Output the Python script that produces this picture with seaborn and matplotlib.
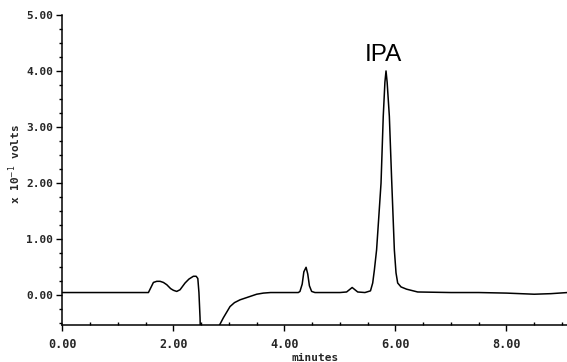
import matplotlib
matplotlib.use("Agg")
import matplotlib.pyplot as plt
from matplotlib.ticker import MultipleLocator, FormatStrFormatter
import seaborn as sns
import pandas as pd

# Chromatogram trace (time in minutes, signal in x 10^-1 volts)
time_min = [
    0.00, 1.00, 1.55, 1.60, 1.64, 1.70, 1.76, 1.82, 1.88, 1.95, 2.00, 2.06,
    2.12, 2.21, 2.28, 2.36, 2.41, 2.44, 2.46, 2.48, 2.50, 2.60, 2.75, 2.82,
    2.90, 3.02, 3.10, 3.20, 3.38, 3.50, 3.62, 3.75, 4.00, 4.25, 4.28, 4.32,
    4.35, 4.39, 4.42, 4.45, 4.49, 4.55, 5.00, 5.12, 5.17, 5.22, 5.27, 5.32,
    5.45, 5.55, 5.59, 5.62, 5.66, 5.70, 5.74, 5.78, 5.81, 5.83, 5.85, 5.89,
    5.93, 5.98, 6.01, 6.04, 6.10, 6.20, 6.40, 7.00, 7.50, 8.00, 8.50, 8.80,
    9.10,
]
signal = [
    0.05, 0.05, 0.05, 0.15, 0.23, 0.25, 0.25, 0.23, 0.19, 0.12, 0.09, 0.07,
    0.10, 0.22, 0.29, 0.34, 0.34, 0.30, 0.05, -0.40, -1.20, -1.50, -1.20, -0.55,
    -0.40, -0.20, -0.13, -0.08, -0.02, 0.02, 0.04, 0.05, 0.05, 0.05, 0.07, 0.20,
    0.42, 0.50, 0.38, 0.17, 0.07, 0.05, 0.05, 0.06, 0.10, 0.14, 0.10, 0.06,
    0.05, 0.08, 0.22, 0.45, 0.81, 1.40, 2.00, 3.19, 3.80, 4.00, 3.80, 3.19,
    2.10, 0.81, 0.40, 0.22, 0.15, 0.11, 0.06, 0.05, 0.05, 0.04, 0.02, 0.03,
    0.05,
]

x_major = [0, 2, 4, 6, 8]
y_major = [0, 1, 2, 3, 4, 5]
peak_label = "IPA"
peak_label_pos = (5.79, 4.08)

df = pd.DataFrame({"minutes": time_min, "volts": signal})

sns.set_theme(style="ticks")
plt.rcParams["font.family"] = ["DejaVu Sans Mono", "DejaVu Sans"]

fig = plt.figure(figsize=(5.67, 3.62), dpi=100)
ax = fig.add_axes([0.110, 0.102, 0.890, 0.857])

sns.lineplot(data=df, x="minutes", y="volts", ax=ax, color="black",
             linewidth=1.1, sort=False, estimator=None)

ax.set_xlim(0, 9.09)
ax.set_ylim(-0.53, 5.0)
ax.set_xticks(x_major)
ax.set_yticks(y_major)
ax.xaxis.set_minor_locator(MultipleLocator(0.5))
ax.yaxis.set_minor_locator(MultipleLocator(0.25))
ax.xaxis.set_major_formatter(FormatStrFormatter("%.2f"))
ax.yaxis.set_major_formatter(FormatStrFormatter("%.2f"))

for spine in ["top", "right"]:
    ax.spines[spine].set_visible(False)
for spine in ["left", "bottom"]:
    ax.spines[spine].set_linewidth(1.1)
    ax.spines[spine].set_color("black")

ax.tick_params(axis="y", which="major", direction="out", length=4.5,
               width=1.0, color="black", labelsize=8, pad=2)
ax.tick_params(axis="x", which="major", direction="out", length=4.5,
               width=1.0, color="black", labelsize=8.5, pad=5)
ax.tick_params(axis="x", which="minor", direction="in", length=2.5, width=1.0, color="black")
ax.tick_params(axis="y", which="minor", direction="out", length=2.5, width=1.0, color="black")
for lbl in ax.get_xticklabels() + ax.get_yticklabels():
    lbl.set_fontweight("bold")

ax.set_xlabel("minutes", fontsize=8, fontweight="bold", labelpad=1)
ax.set_ylabel("x 10$^{-1}$ volts", fontsize=8, fontweight="bold")
ax.yaxis.set_label_coords(-0.078, 0.52)

ax.text(peak_label_pos[0], peak_label_pos[1], peak_label, ha="center", va="bottom",
        fontsize=17.5, family="Liberation Sans", color="black")

fig.savefig("out.png", dpi=100)
